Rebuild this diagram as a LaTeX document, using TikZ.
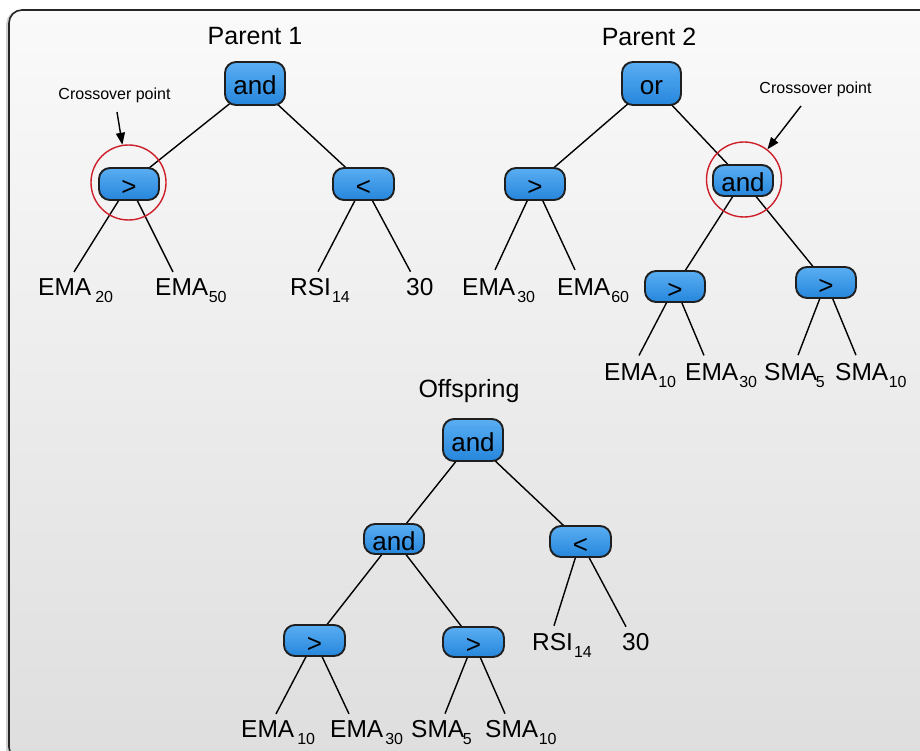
\documentclass[tikz,border=0pt]{standalone}
\usepackage{fontspec}
\setmainfont{Liberation Sans}
\usetikzlibrary{arrows.meta}

\definecolor{boxtop}{RGB}{90,174,242}
\definecolor{boxbot}{RGB}{38,134,220}
\definecolor{ringred}{RGB}{205,32,42}
\definecolor{panelhi}{RGB}{250,250,250}
\definecolor{panello}{RGB}{222,222,222}

\pgfdeclarelayer{under}
\pgfsetlayers{under,main}

% terminal label with a lowered index
\newcommand{\leafsub}[3][0.5pt]{#2\kern#1\raisebox{-7.5pt}{\fontsize{16}{16}\selectfont #3}}

\tikzset{
  opbox/.style={draw=black!88, line width=1.9pt, rounded corners=11pt,
    top color=boxtop, bottom color=boxbot,
    minimum width=60pt, minimum height=32pt, inner sep=0pt,
    font=\fontsize{26}{26}\selectfont, text height=23pt, text depth=0pt},
  leaf/.style={anchor=base west, inner sep=0pt, font=\fontsize{24.5}{24.5}\selectfont},
  title/.style={anchor=base, font=\fontsize{25}{25}\selectfont},
  note/.style={anchor=base, font=\fontsize{16}{16}\selectfont},
  ring/.style={circle, draw=ringred, line width=1.4pt, minimum size=75pt, inner sep=0pt},
  link/.style={line width=1.4pt},
  pointer/.style={line width=1.4pt, -{Triangle[length=12pt,width=9pt]}},
}

\begin{document}
\begin{tikzpicture}[x=1pt,y=-1pt]
\useasboundingbox (0,0) rectangle (920,751);

% page and panel
\begin{pgfonlayer}{under}
  \fill[white] (0,0) rectangle (920,751);
  \draw[black!18, line width=3pt, rounded corners=13pt] (7.5,11.5) rectangle (935,762);
  \path[rounded corners=13pt, top color=panelhi, bottom color=panello,
        draw=black!85, line width=1.6pt] (9,10) rectangle (935,760);
\end{pgfonlayer}

% ---------- Parent 1 ----------
\node[title] (t1) at (255,45) {Parent 1};
\node[opbox, minimum height=43pt] (a1) at (255,83.5) {and};
\node[opbox] (g1) at (129,184) {>};
\node[opbox, minimum width=61pt] (s1) at (363.5,184) {<};
\node[leaf] (p1a) at (38,295) {\leafsub[4pt]{EMA}{20}};
\node[leaf] (p1b) at (155,295) {\leafsub{EMA}{50}};
\node[leaf] (p1c) at (290,295) {\leafsub[1pt]{RSI}{14}};
\node[leaf] (p1d) at (406,295) {30};
\node[ring] (r1) at (128.5,182.5) {};
\node[note] (n1) at (114.5,100) {Crossover point};
\coordinate (q1) at (117,112);

% ---------- Parent 2 ----------
\node[title] (t2) at (649,46) {Parent 2};
\node[opbox, minimum height=43pt, minimum width=59pt] (o2) at (651.5,83.5) {or};
\node[opbox] (g2) at (535,184) {>};
\node[opbox, minimum height=31pt] (n2) at (743,180.5) {and};
\node[opbox, minimum height=31pt] (g2a) at (675,286.5) {>};
\node[opbox, minimum height=31pt] (g2b) at (826,282.5) {>};
\node[leaf] (p2a) at (462,295) {\leafsub[2pt]{EMA}{30}};
\node[leaf] (p2b) at (557,295) {\leafsub[1pt]{EMA}{60}};
\node[leaf] (p2c) at (604,380) {\leafsub[1pt]{EMA}{10}};
\node[leaf] (p2d) at (685,380) {\leafsub[1pt]{EMA}{30}};
\node[leaf] (p2e) at (764,380) {\leafsub[-1.5pt]{SMA}{5}};
\node[leaf] (p2f) at (835,380) {\leafsub[0.5pt]{SMA}{10}};
\node[ring] (r2) at (744,179.5) {};
\node[note] (n2note) at (815.5,94) {Crossover point};
\coordinate (q2) at (801,106);

% ---------- Offspring ----------
\node[title] (t3) at (469,397) {Offspring};
\node[opbox, minimum height=42pt] (a3) at (473,440) {and};
\node[opbox, minimum height=30pt] (n3) at (394,539) {and};
\node[opbox, minimum width=61pt, minimum height=31pt] (s3) at (580.5,541.5) {<};
\node[opbox, minimum width=61pt, minimum height=31pt] (g3a) at (314.5,640.5) {>};
\node[opbox, minimum width=61pt, minimum height=30pt] (g3b) at (473.5,642) {>};
\node[leaf] (o3a) at (532,650) {\leafsub[1pt]{RSI}{14}};
\node[leaf] (o3b) at (622,650) {30};
\node[leaf] (o3c) at (241,737) {\leafsub[3pt]{EMA}{10}};
\node[leaf] (o3d) at (330,737) {\leafsub[2pt]{EMA}{30}};
\node[leaf] (o3e) at (411,737) {\leafsub[-1.5pt]{SMA}{5}};
\node[leaf] (o3f) at (485,737) {\leafsub[0.5pt]{SMA}{10}};

% ---------- connectors ----------
\begin{pgfonlayer}{under}
  % Parent 1
  \draw[link] (a1.center) -- (g1.center);
  \draw[link] (a1.center) -- (s1.center);
  \draw[link] (g1.center) -- ([xshift=36pt,yshift=6pt]p1a.north west);
  \draw[link] (g1.center) -- ([xshift=18pt,yshift=6pt]p1b.north west);
  \draw[link] (s1.center) -- ([xshift=28pt,yshift=6pt]p1c.north west);
  \draw[link] (s1.center) -- ([xshift=4.5pt,yshift=6pt]p1d.north west);
  % Parent 2
  \draw[link] (o2.center) -- (g2.center);
  \draw[link] (o2.center) -- (n2.center);
  \draw[link] (g2.center) -- ([xshift=33pt,yshift=8pt]p2a.north west);
  \draw[link] (g2.center) -- ([xshift=18pt,yshift=8pt]p2b.north west);
  \draw[link] (n2.center) -- (g2a.center);
  \draw[link] (n2.center) -- (g2b.center);
  \draw[link] (g2a.center) -- ([xshift=35pt,yshift=7.5pt]p2c.north west);
  \draw[link] (g2a.center) -- ([xshift=19pt,yshift=7.5pt]p2d.north west);
  \draw[link] (g2b.center) -- ([xshift=34pt,yshift=7.5pt]p2e.north west);
  \draw[link] (g2b.center) -- ([xshift=21pt,yshift=7.5pt]p2f.north west);
  % Offspring
  \draw[link] (a3.center) -- (n3.center);
  \draw[link] (a3.center) -- (s3.center);
  \draw[link] (n3.center) -- (g3a.center);
  \draw[link] (n3.center) -- (g3b.center);
  \draw[link] (s3.center) -- ([xshift=22pt,yshift=7pt]o3a.north west);
  \draw[link] (s3.center) -- ([xshift=4pt,yshift=6pt]o3b.north west);
  \draw[link] (g3a.center) -- ([xshift=35pt,yshift=6pt]o3c.north west);
  \draw[link] (g3a.center) -- ([xshift=19pt,yshift=6pt]o3d.north west);
  \draw[link] (g3b.center) -- ([xshift=34pt,yshift=6pt]o3e.north west);
  \draw[link] (g3b.center) -- ([xshift=20pt,yshift=6pt]o3f.north west);
\end{pgfonlayer}

% crossover pointers
\draw[pointer] (q1) -- (r1);
\draw[pointer] (q2) -- (r2);
\end{tikzpicture}
\end{document}
